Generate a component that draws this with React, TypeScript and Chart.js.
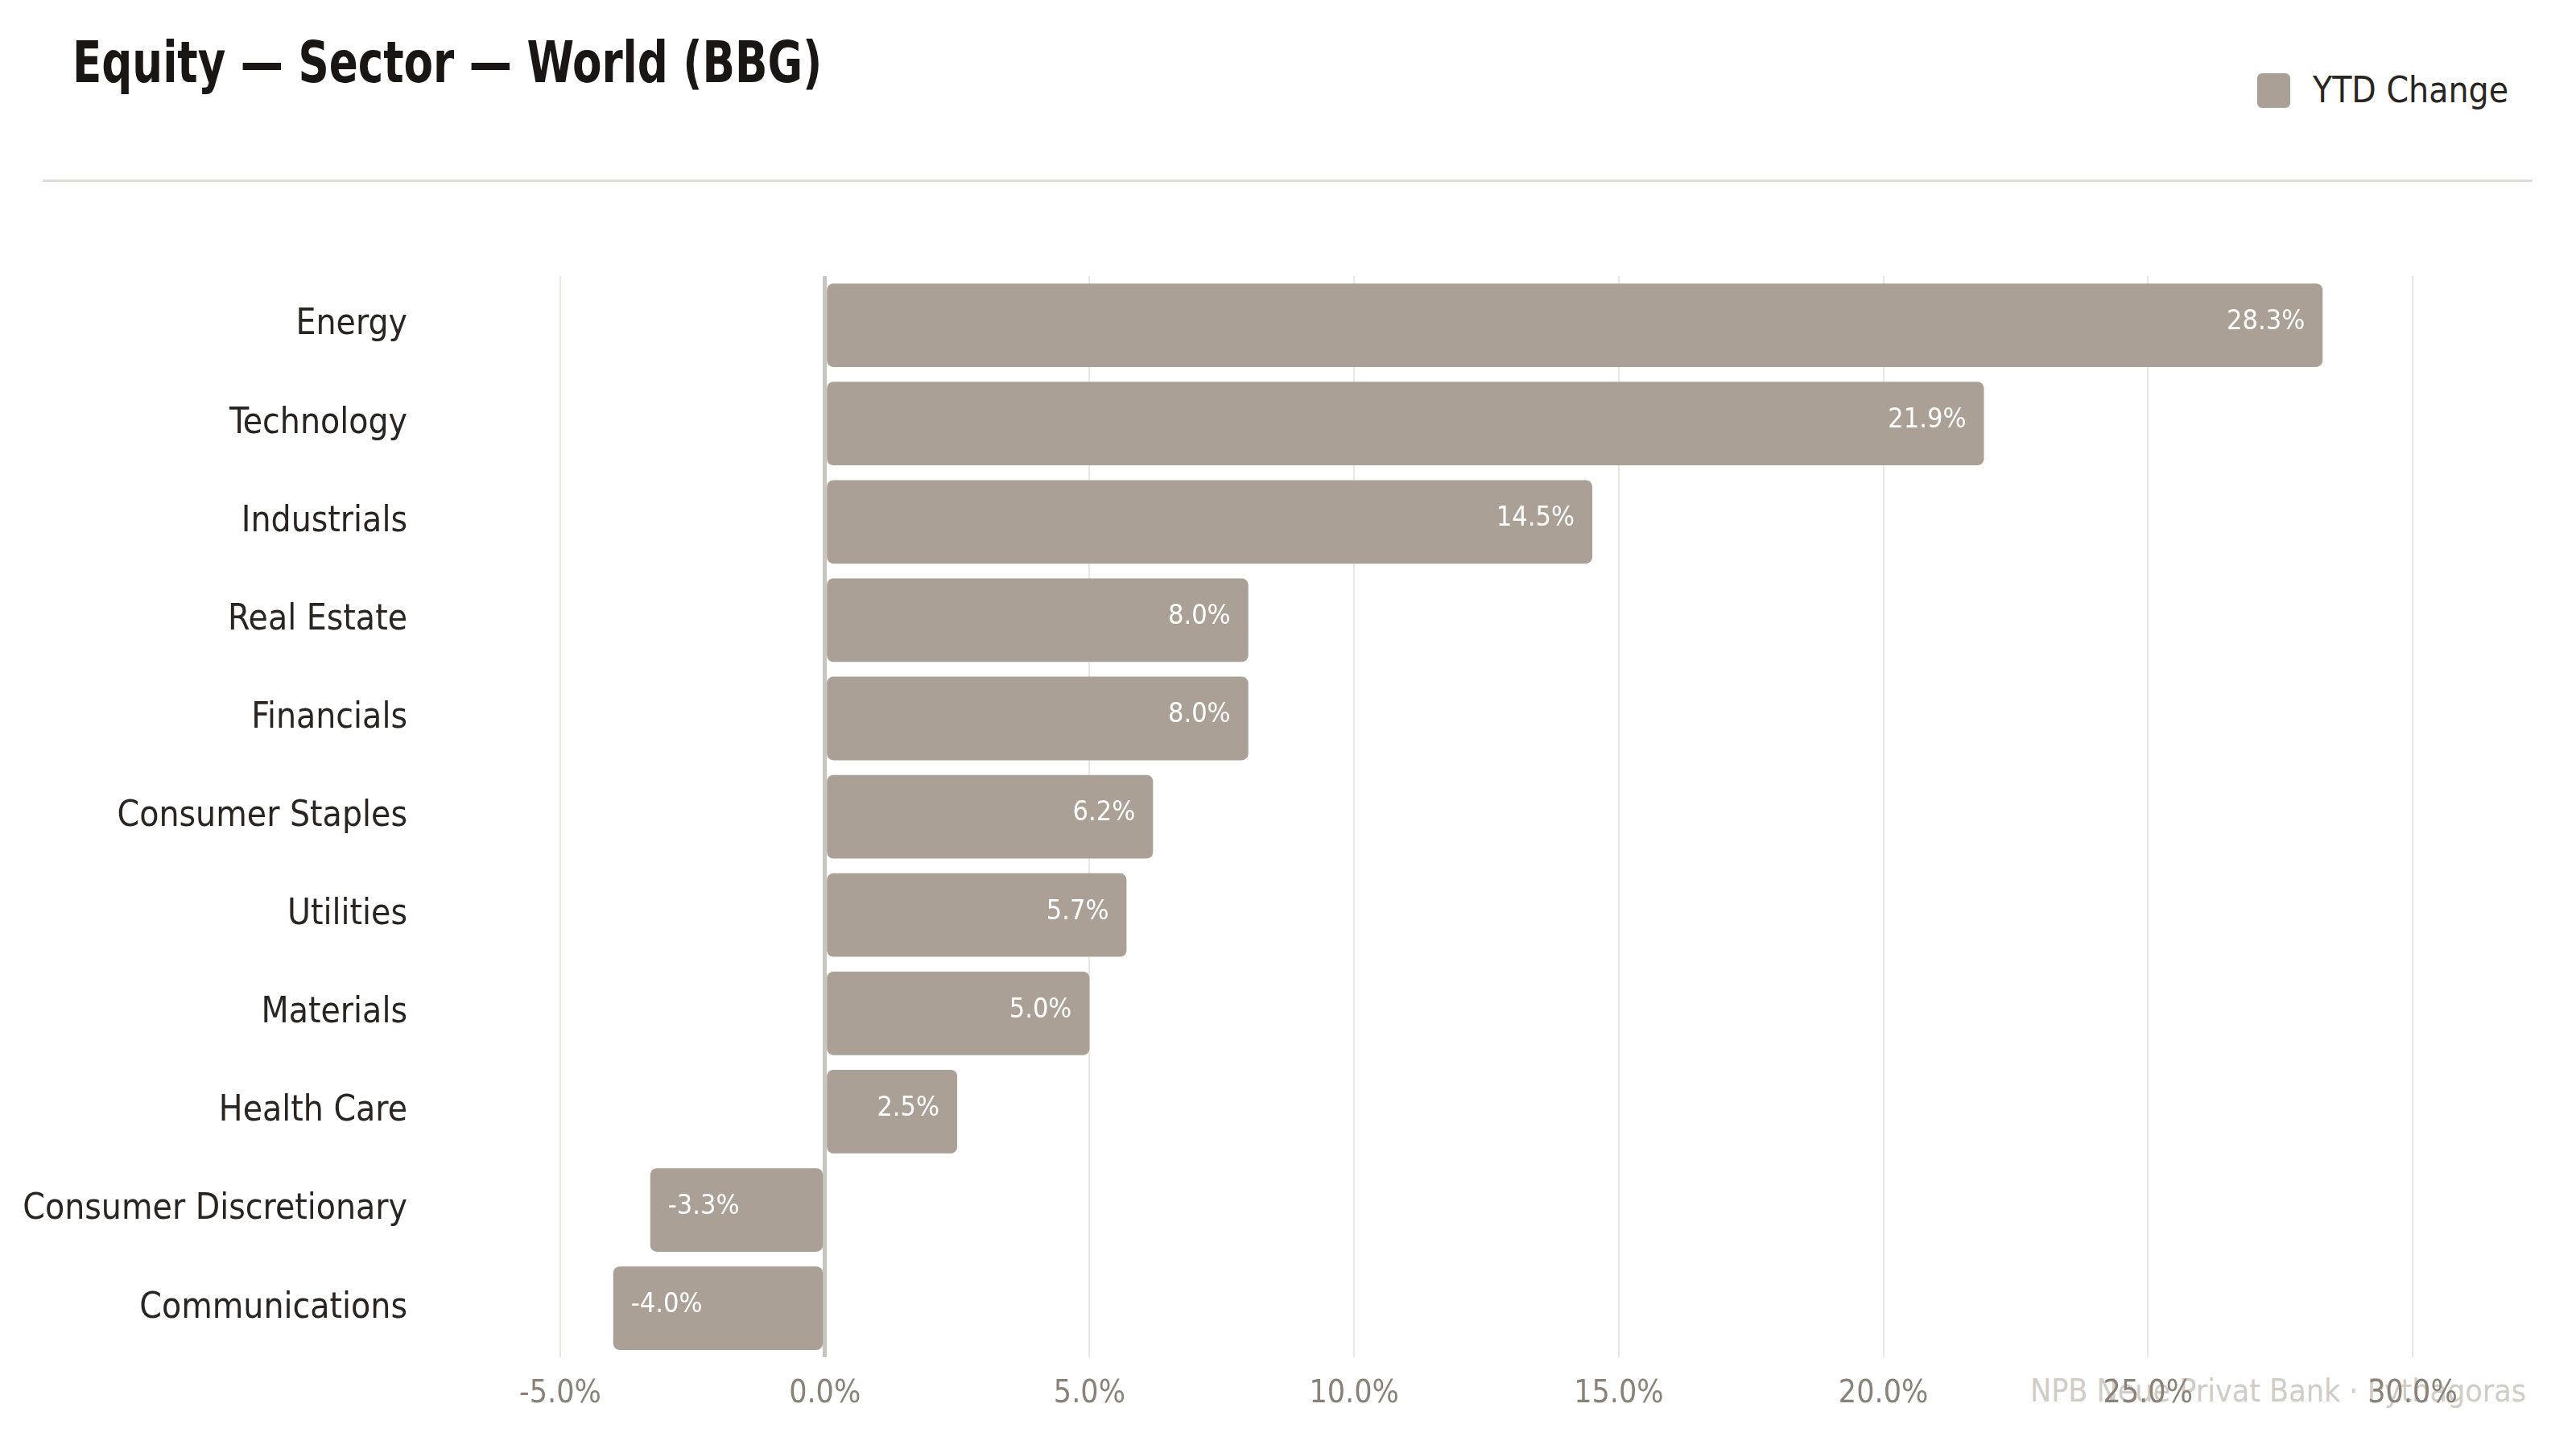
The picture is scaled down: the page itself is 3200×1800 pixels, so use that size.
import React, { useEffect, useRef } from 'react';
import { Chart, registerables } from 'chart.js';

Chart.register(...registerables);

const FONT = "'Liberation Sans Narrow', 'DejaVu Sans Condensed', 'Roboto', sans-serif";

const sectors = [
  'Energy',
  'Technology',
  'Industrials',
  'Real Estate',
  'Financials',
  'Consumer Staples',
  'Utilities',
  'Materials',
  'Health Care',
  'Consumer Discretionary',
  'Communications',
];

const ytdChange = [28.3, 21.9, 14.5, 8.0, 8.0, 6.2, 5.7, 5.0, 2.5, -3.3, -4.0];

const seriesLabel = 'YTD Change';
const barColor = '#aaa096';

// white value labels drawn inside the end of each bar
const valueLabels = {
  id: 'valueLabels',
  afterDatasetsDraw(chart: Chart) {
    const { ctx } = chart;
    const meta = chart.getDatasetMeta(0);
    ctx.save();
    ctx.font = `34px ${FONT}`;
    ctx.fillStyle = '#ffffff';
    ctx.textBaseline = 'middle';
    meta.data.forEach((bar: any, i: number) => {
      const v = ytdChange[i];
      const txt = v.toFixed(1) + '%';
      if (v >= 0) {
        ctx.textAlign = 'right';
        ctx.fillText(txt, bar.x - 22, bar.y - 4);
      } else {
        ctx.textAlign = 'left';
        ctx.fillText(txt, bar.x + 22, bar.y - 4);
      }
    });
    ctx.restore();
  },
};

const SectorChart: React.FC = () => {
  const canvasRef = useRef<HTMLCanvasElement>(null);
  const chartRef = useRef<Chart | null>(null);

  useEffect(() => {
    if (!canvasRef.current) return;
    if (chartRef.current) chartRef.current.destroy();
    const ctx = canvasRef.current.getContext('2d');
    if (!ctx) return;

    chartRef.current = new Chart(ctx, {
      type: 'bar',
      data: {
        labels: sectors,
        datasets: [
          {
            label: seriesLabel,
            data: ytdChange,
            backgroundColor: barColor,
            borderWidth: 0,
            borderRadius: 8,
            borderSkipped: false,
            barPercentage: 0.85,
            categoryPercentage: 1.0,
          },
        ],
      },
      options: {
        indexAxis: 'y',
        responsive: false,
        animation: false,
        layout: {
          padding: { top: 343, right: 203, bottom: 23, left: 0 },
        },
        plugins: {
          legend: { display: false },
          tooltip: { enabled: false },
        },
        scales: {
          x: {
            min: -5,
            max: 30,
            ticks: {
              stepSize: 5,
              padding: 22,
              color: '#8a8178',
              font: { family: FONT, size: 39 },
              callback: (value: any) => Number(value).toFixed(1) + '%',
            },
            grid: {
              drawTicks: false,
              color: (c: any) => (c.tick && c.tick.value === 0 ? '#c8c4be' : '#ebe8e4'),
              lineWidth: (c: any) => (c.tick && c.tick.value === 0 ? 5 : 2),
            },
            border: { display: false },
          },
          y: {
            ticks: {
              padding: 0,
              color: '#2b2521',
              font: { family: FONT, size: 44 },
            },
            // invisible tick marks give the gap between labels and the plot
            grid: {
              drawOnChartArea: false,
              drawTicks: true,
              tickLength: 190,
              color: 'rgba(0,0,0,0)',
            },
            border: { display: false },
            afterFit: (scale: any) => {
              scale.width = 696;
            },
          },
        },
      },
      plugins: [valueLabels],
    });

    return () => {
      if (chartRef.current) {
        chartRef.current.destroy();
        chartRef.current = null;
      }
    };
  }, []);

  return (
    <div style={{ position: 'absolute', left: 0, top: 0, width: 3200, height: 1800 }}>
      <canvas ref={canvasRef} width={3200} height={1800} style={{ width: 3200, height: 1800 }}></canvas>
    </div>
  );
};

const App: React.FC = () => {
  return (
    <div
      style={{
        position: 'fixed',
        left: 0,
        top: 0,
        width: 3200,
        height: 1800,
        background: '#ffffff',
        fontFamily: FONT,
        overflow: 'hidden',
      }}
    >
      <div
        style={{
          position: 'absolute',
          left: 90,
          top: 41,
          fontSize: 72,
          lineHeight: 1,
          fontWeight: 700,
          color: '#1a1614',
          whiteSpace: 'nowrap',
          transform: 'scaleX(0.82)',
          transformOrigin: 'left top',
        }}
      >
        Equity — Sector — World (BBG)
      </div>
      <div
        style={{
          position: 'absolute',
          left: 2804,
          top: 90,
          display: 'flex',
          alignItems: 'center',
          whiteSpace: 'nowrap',
        }}
      >
        <span
          style={{
            display: 'inline-block',
            width: 41,
            height: 43,
            borderRadius: 6,
            background: barColor,
            marginRight: 28,
          }}
        />
        <span style={{ fontSize: 44, lineHeight: 1, color: '#2b2521' }}>{seriesLabel}</span>
      </div>
      <div
        style={{
          position: 'absolute',
          left: 53,
          top: 223,
          width: 3093,
          height: 3,
          background: '#e0ddd9',
        }}
      />
      <div
        style={{
          position: 'absolute',
          right: 62,
          top: 1705,
          fontSize: 39,
          lineHeight: 1.2,
          color: '#d0ccc6',
          whiteSpace: 'nowrap',
        }}
      >
        NPB Neue Privat Bank · Pythagoras
      </div>
      <SectorChart />
    </div>
  );
};

export default App;
